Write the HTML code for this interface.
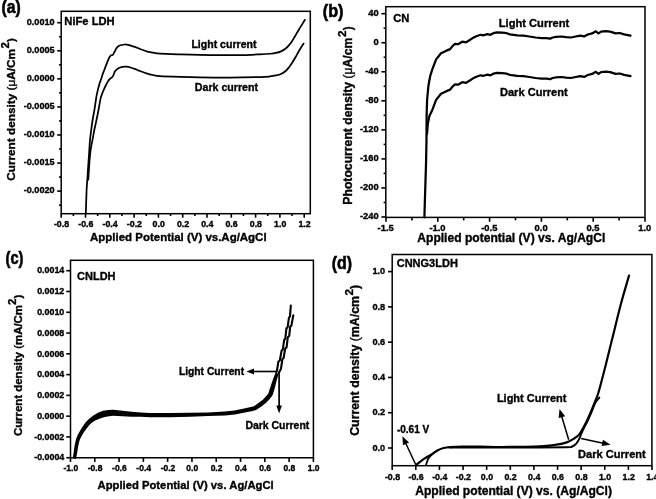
<!DOCTYPE html>
<html><head><meta charset="utf-8"><style>
html,body{margin:0;padding:0;background:#fff;}
svg{display:block;will-change:transform;filter:blur(0.3px);}
text{font-family:"Liberation Sans", sans-serif;font-weight:bold;fill:#000;stroke:#000;stroke-width:0.35px;}
text.s{stroke:#000;stroke-width:0.6px;}
</style></head><body>
<svg width="656" height="499" viewBox="0 0 656 499" stroke="#000" fill="#000">
<rect x="0" y="0" width="656" height="499" fill="#fff" stroke="none"/>
<rect x="61.2" y="11.3" width="249.1" height="202.4" fill="none" stroke-width="1.5"/>
<line x1="57.2" y1="22.7" x2="61.2" y2="22.7" stroke-width="1.6" stroke-linecap="butt"/>
<text x="54.6" y="25.05" font-size="9.1" text-anchor="end">0.0010</text>
<line x1="57.2" y1="50.77" x2="61.2" y2="50.77" stroke-width="1.6" stroke-linecap="butt"/>
<text x="54.6" y="53.12" font-size="9.1" text-anchor="end">0.0005</text>
<line x1="57.2" y1="78.84" x2="61.2" y2="78.84" stroke-width="1.6" stroke-linecap="butt"/>
<text x="54.6" y="81.19" font-size="9.1" text-anchor="end">0.0000</text>
<line x1="57.2" y1="106.91" x2="61.2" y2="106.91" stroke-width="1.6" stroke-linecap="butt"/>
<text x="54.6" y="109.26" font-size="9.1" text-anchor="end">-0.0005</text>
<line x1="57.2" y1="134.98" x2="61.2" y2="134.98" stroke-width="1.6" stroke-linecap="butt"/>
<text x="54.6" y="137.33" font-size="9.1" text-anchor="end">-0.0010</text>
<line x1="57.2" y1="163.05" x2="61.2" y2="163.05" stroke-width="1.6" stroke-linecap="butt"/>
<text x="54.6" y="165.4" font-size="9.1" text-anchor="end">-0.0015</text>
<line x1="57.2" y1="191.12" x2="61.2" y2="191.12" stroke-width="1.6" stroke-linecap="butt"/>
<text x="54.6" y="193.47" font-size="9.1" text-anchor="end">-0.0020</text>
<line x1="59" y1="36.73" x2="61.2" y2="36.73" stroke-width="1.6" stroke-linecap="butt"/>
<line x1="59" y1="64.8" x2="61.2" y2="64.8" stroke-width="1.6" stroke-linecap="butt"/>
<line x1="59" y1="92.88" x2="61.2" y2="92.88" stroke-width="1.6" stroke-linecap="butt"/>
<line x1="59" y1="120.95" x2="61.2" y2="120.95" stroke-width="1.6" stroke-linecap="butt"/>
<line x1="59" y1="149.01" x2="61.2" y2="149.01" stroke-width="1.6" stroke-linecap="butt"/>
<line x1="59" y1="177.08" x2="61.2" y2="177.08" stroke-width="1.6" stroke-linecap="butt"/>
<line x1="59" y1="205.16" x2="61.2" y2="205.16" stroke-width="1.6" stroke-linecap="butt"/>
<line x1="61.2" y1="213.7" x2="61.2" y2="217.7" stroke-width="1.6" stroke-linecap="butt"/>
<text x="61.5" y="227.4" font-size="8.8" text-anchor="middle">-0.8</text>
<line x1="73.35" y1="213.7" x2="73.35" y2="216" stroke-width="1.6" stroke-linecap="butt"/>
<line x1="85.5" y1="213.7" x2="85.5" y2="217.7" stroke-width="1.6" stroke-linecap="butt"/>
<text x="85.8" y="227.4" font-size="8.8" text-anchor="middle">-0.6</text>
<line x1="97.65" y1="213.7" x2="97.65" y2="216" stroke-width="1.6" stroke-linecap="butt"/>
<line x1="109.8" y1="213.7" x2="109.8" y2="217.7" stroke-width="1.6" stroke-linecap="butt"/>
<text x="110.1" y="227.4" font-size="8.8" text-anchor="middle">-0.4</text>
<line x1="121.95" y1="213.7" x2="121.95" y2="216" stroke-width="1.6" stroke-linecap="butt"/>
<line x1="134.1" y1="213.7" x2="134.1" y2="217.7" stroke-width="1.6" stroke-linecap="butt"/>
<text x="134.4" y="227.4" font-size="8.8" text-anchor="middle">-0.2</text>
<line x1="146.25" y1="213.7" x2="146.25" y2="216" stroke-width="1.6" stroke-linecap="butt"/>
<line x1="158.4" y1="213.7" x2="158.4" y2="217.7" stroke-width="1.6" stroke-linecap="butt"/>
<text x="158.7" y="227.4" font-size="8.8" text-anchor="middle">0.0</text>
<line x1="170.55" y1="213.7" x2="170.55" y2="216" stroke-width="1.6" stroke-linecap="butt"/>
<line x1="182.7" y1="213.7" x2="182.7" y2="217.7" stroke-width="1.6" stroke-linecap="butt"/>
<text x="183" y="227.4" font-size="8.8" text-anchor="middle">0.2</text>
<line x1="194.85" y1="213.7" x2="194.85" y2="216" stroke-width="1.6" stroke-linecap="butt"/>
<line x1="207" y1="213.7" x2="207" y2="217.7" stroke-width="1.6" stroke-linecap="butt"/>
<text x="207.3" y="227.4" font-size="8.8" text-anchor="middle">0.4</text>
<line x1="219.15" y1="213.7" x2="219.15" y2="216" stroke-width="1.6" stroke-linecap="butt"/>
<line x1="231.3" y1="213.7" x2="231.3" y2="217.7" stroke-width="1.6" stroke-linecap="butt"/>
<text x="231.6" y="227.4" font-size="8.8" text-anchor="middle">0.6</text>
<line x1="243.45" y1="213.7" x2="243.45" y2="216" stroke-width="1.6" stroke-linecap="butt"/>
<line x1="255.6" y1="213.7" x2="255.6" y2="217.7" stroke-width="1.6" stroke-linecap="butt"/>
<text x="255.9" y="227.4" font-size="8.8" text-anchor="middle">0.8</text>
<line x1="267.75" y1="213.7" x2="267.75" y2="216" stroke-width="1.6" stroke-linecap="butt"/>
<line x1="279.9" y1="213.7" x2="279.9" y2="217.7" stroke-width="1.6" stroke-linecap="butt"/>
<text x="280.2" y="227.4" font-size="8.8" text-anchor="middle">1.0</text>
<line x1="292.05" y1="213.7" x2="292.05" y2="216" stroke-width="1.6" stroke-linecap="butt"/>
<line x1="304.2" y1="213.7" x2="304.2" y2="217.7" stroke-width="1.6" stroke-linecap="butt"/>
<text x="304.5" y="227.4" font-size="8.8" text-anchor="middle">1.2</text>
<text x="90" y="240.9" font-size="11.5" textLength="176.6" lengthAdjust="spacingAndGlyphs">Applied Potential (V) vs.Ag/AgCl</text>
<text transform="translate(15.3 180.8) rotate(-90)" x="0" y="0" font-size="11.8" textLength="131.8" lengthAdjust="spacingAndGlyphs">Current density <tspan font-weight="normal">(μ</tspan>A/Cm</text>
<text transform="translate(9.3 48.6) rotate(-90)" x="0" y="0" font-size="11" textLength="6.4" lengthAdjust="spacingAndGlyphs">2</text>
<text transform="translate(15.3 42) rotate(-90)" x="0" y="0" font-size="11.8" font-weight="normal" textLength="3.8" lengthAdjust="spacingAndGlyphs">)</text>
<text x="64.3" y="25.35" font-size="11.2" textLength="50.4" lengthAdjust="spacingAndGlyphs">NiFe LDH</text>
<text x="191.4" y="47.75" font-size="10.6" textLength="65.1" lengthAdjust="spacingAndGlyphs">Light current</text>
<text x="194.8" y="90.85" font-size="10.6" textLength="63.2" lengthAdjust="spacingAndGlyphs">Dark current</text>
<path d="M85.8 213.7 C85.93 209.75 86.35 195.62 86.6 190 C86.85 184.38 87.03 184 87.3 180 C87.57 176 87.92 170.17 88.2 166 C88.48 161.83 88.7 159.33 89 155 C89.3 150.67 89.63 144.17 90 140 C90.37 135.83 90.77 133.33 91.2 130 C91.63 126.67 92.07 123.33 92.6 120 C93.13 116.67 93.85 113.33 94.4 110 C94.95 106.67 95.47 102.73 95.9 100 C96.33 97.27 96.42 96.27 97 93.6 C97.58 90.93 98.7 86.43 99.4 84 C100.1 81.57 100.7 80.5 101.2 79 C101.7 77.5 101.8 76.72 102.4 75 C103 73.28 104 70.82 104.8 68.7 C105.6 66.58 106.4 64.25 107.2 62.3 C108 60.35 108.93 58.18 109.6 57 C110.27 55.82 110.67 55.55 111.2 55.2 C111.73 54.85 112.27 55.4 112.8 54.9 C113.33 54.4 113.8 53.32 114.4 52.2 C115 51.08 115.73 49.2 116.4 48.2 C117.07 47.2 117.53 46.73 118.4 46.2 C119.27 45.67 120.53 45.28 121.6 45 C122.67 44.72 123.73 44.53 124.8 44.5 C125.87 44.47 126.78 44.53 128 44.8 C129.22 45.07 130.75 45.67 132.1 46.1 C133.45 46.53 134.78 46.92 136.1 47.4 C137.42 47.88 138.13 48.26 140 48.95 C141.87 49.64 144.97 50.9 147.3 51.55 C149.63 52.2 151.88 52.5 154 52.85 C156.12 53.2 155.67 53.4 160 53.65 C164.33 53.9 173.33 54.15 180 54.35 C186.67 54.55 193.33 54.72 200 54.85 C206.67 54.98 213.33 55.1 220 55.15 C226.67 55.2 233.33 55.28 240 55.15 C246.67 55.02 255 54.58 260 54.35 C265 54.12 267.33 53.98 270 53.75 C272.67 53.52 274.17 53.35 276 52.95 C277.83 52.55 279.38 52.09 281 51.35 C282.62 50.61 284.37 49.52 285.7 48.5 C287.03 47.48 287.95 46.4 289 45.2 C290.05 44 290.95 42.88 292 41.3 C293.05 39.72 294.22 37.55 295.3 35.7 C296.38 33.85 297.42 32 298.5 30.2 C299.58 28.4 300.73 26.63 301.8 24.9 C302.87 23.17 304.38 20.65 304.9 19.8" fill="none" stroke-width="1.75" stroke-linejoin="round" stroke-linecap="round"/>
<path d="M88.3 179.6 C88.4 178 88.68 173.27 88.9 170 C89.12 166.73 89.35 163 89.6 160 C89.85 157 90.1 154.5 90.4 152 C90.7 149.5 91.05 147 91.4 145 C91.75 143 92.02 142.5 92.5 140 C92.98 137.5 93.63 133.33 94.3 130 C94.97 126.67 95.8 123.33 96.5 120 C97.2 116.67 97.82 113.6 98.5 110 C99.18 106.4 99.95 101.23 100.6 98.4 C101.25 95.57 101.8 94.6 102.4 93 C103 91.4 103.6 90.13 104.2 88.8 C104.8 87.47 105.4 86.2 106 85 C106.6 83.8 107.2 82.57 107.8 81.6 C108.4 80.63 109.07 79.8 109.6 79.2 C110.13 78.6 110.57 78.33 111 78 C111.43 77.67 111.83 77.6 112.2 77.2 C112.57 76.8 112.7 76.62 113.2 75.6 C113.7 74.58 114.33 72.32 115.2 71.1 C116.07 69.88 117.2 69 118.4 68.3 C119.6 67.6 121.05 67.17 122.4 66.9 C123.75 66.63 125.15 66.6 126.5 66.7 C127.85 66.8 129.03 67.1 130.5 67.5 C131.97 67.9 133.72 68.51 135.3 69.1 C136.88 69.69 138 70.31 140 71.05 C142 71.79 144.97 72.85 147.3 73.55 C149.63 74.25 151.88 74.82 154 75.25 C156.12 75.68 155.67 75.87 160 76.15 C164.33 76.43 173.33 76.73 180 76.95 C186.67 77.17 191.67 77.33 200 77.45 C208.33 77.57 220 77.72 230 77.65 C240 77.58 253.33 77.25 260 77.05 C266.67 76.85 267.33 76.72 270 76.45 C272.67 76.18 274.17 75.87 276 75.45 C277.83 75.03 279.38 74.69 281 73.95 C282.62 73.21 284.37 72.12 285.7 71 C287.03 69.88 287.95 68.55 289 67.2 C290.05 65.85 290.95 64.52 292 62.9 C293.05 61.28 294.22 59.37 295.3 57.5 C296.38 55.63 297.52 53.42 298.5 51.7 C299.48 49.98 300.35 48.55 301.2 47.2 C302.05 45.85 303.2 44.2 303.6 43.6" fill="none" stroke-width="1.75" stroke-linejoin="round" stroke-linecap="round"/>
<text x="1.6" y="12.9" font-size="17.85" font-weight="normal" textLength="19.2" lengthAdjust="spacingAndGlyphs" class="s" stroke-width="0.55">(a)</text>
<rect x="385.8" y="6.7" width="259.2" height="210.7" fill="none" stroke-width="1.5"/>
<line x1="381.4" y1="13.7" x2="385.8" y2="13.7" stroke-width="1.6" stroke-linecap="butt"/>
<text x="378.6" y="16.2" font-size="9.3" text-anchor="end">40</text>
<line x1="383.6" y1="28.22" x2="385.8" y2="28.22" stroke-width="1.6" stroke-linecap="butt"/>
<line x1="381.4" y1="42.74" x2="385.8" y2="42.74" stroke-width="1.6" stroke-linecap="butt"/>
<text x="378.6" y="45.24" font-size="9.3" text-anchor="end">0</text>
<line x1="383.6" y1="57.26" x2="385.8" y2="57.26" stroke-width="1.6" stroke-linecap="butt"/>
<line x1="381.4" y1="71.78" x2="385.8" y2="71.78" stroke-width="1.6" stroke-linecap="butt"/>
<text x="378.6" y="74.28" font-size="9.3" text-anchor="end">-40</text>
<line x1="383.6" y1="86.3" x2="385.8" y2="86.3" stroke-width="1.6" stroke-linecap="butt"/>
<line x1="381.4" y1="100.82" x2="385.8" y2="100.82" stroke-width="1.6" stroke-linecap="butt"/>
<text x="378.6" y="103.32" font-size="9.3" text-anchor="end">-80</text>
<line x1="383.6" y1="115.34" x2="385.8" y2="115.34" stroke-width="1.6" stroke-linecap="butt"/>
<line x1="381.4" y1="129.86" x2="385.8" y2="129.86" stroke-width="1.6" stroke-linecap="butt"/>
<text x="378.6" y="132.36" font-size="9.3" text-anchor="end">-120</text>
<line x1="383.6" y1="144.38" x2="385.8" y2="144.38" stroke-width="1.6" stroke-linecap="butt"/>
<line x1="381.4" y1="158.9" x2="385.8" y2="158.9" stroke-width="1.6" stroke-linecap="butt"/>
<text x="378.6" y="161.4" font-size="9.3" text-anchor="end">-160</text>
<line x1="383.6" y1="173.42" x2="385.8" y2="173.42" stroke-width="1.6" stroke-linecap="butt"/>
<line x1="381.4" y1="187.94" x2="385.8" y2="187.94" stroke-width="1.6" stroke-linecap="butt"/>
<text x="378.6" y="190.44" font-size="9.3" text-anchor="end">-200</text>
<line x1="383.6" y1="202.46" x2="385.8" y2="202.46" stroke-width="1.6" stroke-linecap="butt"/>
<line x1="381.4" y1="216.98" x2="385.8" y2="216.98" stroke-width="1.6" stroke-linecap="butt"/>
<text x="378.6" y="219.48" font-size="9.3" text-anchor="end">-240</text>
<line x1="386" y1="217.4" x2="386" y2="221.8" stroke-width="1.6" stroke-linecap="butt"/>
<text x="385.7" y="231.3" font-size="9.4" text-anchor="middle">-1.5</text>
<line x1="411.9" y1="217.4" x2="411.9" y2="220.4" stroke-width="1.6" stroke-linecap="butt"/>
<line x1="437.8" y1="217.4" x2="437.8" y2="221.8" stroke-width="1.6" stroke-linecap="butt"/>
<text x="437.5" y="231.3" font-size="9.4" text-anchor="middle">-1.0</text>
<line x1="463.7" y1="217.4" x2="463.7" y2="220.4" stroke-width="1.6" stroke-linecap="butt"/>
<line x1="489.6" y1="217.4" x2="489.6" y2="221.8" stroke-width="1.6" stroke-linecap="butt"/>
<text x="489.3" y="231.3" font-size="9.4" text-anchor="middle">-0.5</text>
<line x1="515.5" y1="217.4" x2="515.5" y2="220.4" stroke-width="1.6" stroke-linecap="butt"/>
<line x1="541.4" y1="217.4" x2="541.4" y2="221.8" stroke-width="1.6" stroke-linecap="butt"/>
<text x="541.1" y="231.3" font-size="9.4" text-anchor="middle">0.0</text>
<line x1="567.3" y1="217.4" x2="567.3" y2="220.4" stroke-width="1.6" stroke-linecap="butt"/>
<line x1="593.2" y1="217.4" x2="593.2" y2="221.8" stroke-width="1.6" stroke-linecap="butt"/>
<text x="592.9" y="231.3" font-size="9.4" text-anchor="middle">0.5</text>
<line x1="619.1" y1="217.4" x2="619.1" y2="220.4" stroke-width="1.6" stroke-linecap="butt"/>
<line x1="645" y1="217.4" x2="645" y2="221.8" stroke-width="1.6" stroke-linecap="butt"/>
<text x="644.7" y="231.3" font-size="9.4" text-anchor="middle">1.0</text>
<text x="417.3" y="242.3" font-size="12" textLength="188" lengthAdjust="spacingAndGlyphs">Applied potential (V) vs. Ag/AgCl</text>
<text transform="translate(352.2 204.7) rotate(-90)" x="0" y="0" font-size="12.2" textLength="167.1" lengthAdjust="spacingAndGlyphs">Photocurrent density <tspan font-weight="normal">(μ</tspan>A/cm</text>
<text transform="translate(345.7 37) rotate(-90)" x="0" y="0" font-size="11.5" textLength="6.5" lengthAdjust="spacingAndGlyphs">2</text>
<text transform="translate(352.2 30.3) rotate(-90)" x="0" y="0" font-size="12.2" font-weight="normal" textLength="3.8" lengthAdjust="spacingAndGlyphs">)</text>
<text x="393.2" y="22.35" font-size="11.2" textLength="16.2" lengthAdjust="spacingAndGlyphs">CN</text>
<text x="498.8" y="26.55" font-size="11.1" textLength="70.5" lengthAdjust="spacingAndGlyphs">Light Current</text>
<text x="499.9" y="95.95" font-size="11.1" textLength="67.9" lengthAdjust="spacingAndGlyphs">Dark Current</text>
<path d="M424.4 217.4 L425.2 190 L426 165 L426.5 140 L426.6 116 L427.1 100 L428.4 86 L430.2 76 L432.4 69.2 L436.1 59.4 L441 53.3 L445.9 50.9 L450.1 49.1 L452.6 46 L455 43.8 L458 44.2 L462.3 41.7 L466 42.4 L469 40.5 L472.7 38.1 L476.3 36.3 L480.6 34.8 L483.7 35.3 L487.3 34.1 L490.4 34.8 L493.4 33.2 L497.1 32.4 L502 32.6 L506.8 33.2 L509.9 34.4 L517.2 35.3 L523.3 35.6 L529.4 36.5 L535.5 37.5 L541.6 38.1 L546.5 38.1 L550.1 38.7 L552.6 37.5 L556.2 36.9 L561.1 36.5 L566 37.1 L570.9 37.5 L575.7 36.5 L580.3 35.6 L584.1 36.4 L587.8 34.5 L592.1 33.4 L595.8 31.3 L598.5 33.4 L601.1 31.6 L605.9 31.1 L610.2 31.6 L615.6 33.4 L619.8 33 L624.1 34.3 L630.5 35.6" fill="none" stroke-width="2.25" stroke-linejoin="round" stroke-linecap="round"/>
<path d="M427 134 L427.8 124 L429.4 116 L432.4 109.7 L436.1 99.9 L441 93.8 L445.9 91.4 L450.1 89.6 L452.6 86.5 L455 84.3 L458 84.7 L462.3 82.2 L466 82.9 L469 81 L472.7 78.6 L476.3 76.8 L480.6 75.3 L483.7 75.8 L487.3 74.6 L490.4 75.3 L493.4 73.7 L497.1 72.9 L502 73.1 L506.8 73.7 L509.9 74.9 L517.2 75.8 L523.3 76.1 L529.4 77 L535.5 78 L541.6 78.6 L546.5 78.6 L550.1 79.2 L552.6 78 L556.2 77.4 L561.1 77 L566 77.6 L570.9 78 L575.7 77 L580.3 76.1 L584.1 76.9 L587.8 75 L592.1 73.9 L595.8 71.8 L598.5 73.9 L601.1 72.1 L605.9 71.6 L610.2 72.1 L615.6 73.9 L619.8 73.5 L624.1 74.8 L630.5 76.1" fill="none" stroke-width="2.25" stroke-linejoin="round" stroke-linecap="round"/>
<text x="322.8" y="17" font-size="17.6" font-weight="normal" textLength="20.7" lengthAdjust="spacingAndGlyphs" class="s" stroke-width="0.55">(b)</text>
<rect x="70.5" y="260.3" width="242.9" height="197.45" fill="none" stroke-width="1.5"/>
<line x1="66.3" y1="270.7" x2="70.5" y2="270.7" stroke-width="1.6" stroke-linecap="butt"/>
<text x="64.3" y="273.4" font-size="8.9" text-anchor="end">0.0014</text>
<line x1="66.3" y1="291.48" x2="70.5" y2="291.48" stroke-width="1.6" stroke-linecap="butt"/>
<text x="64.3" y="294.18" font-size="8.9" text-anchor="end">0.0012</text>
<line x1="66.3" y1="312.26" x2="70.5" y2="312.26" stroke-width="1.6" stroke-linecap="butt"/>
<text x="64.3" y="314.96" font-size="8.9" text-anchor="end">0.0010</text>
<line x1="66.3" y1="333.04" x2="70.5" y2="333.04" stroke-width="1.6" stroke-linecap="butt"/>
<text x="64.3" y="335.74" font-size="8.9" text-anchor="end">0.0008</text>
<line x1="66.3" y1="353.82" x2="70.5" y2="353.82" stroke-width="1.6" stroke-linecap="butt"/>
<text x="64.3" y="356.52" font-size="8.9" text-anchor="end">0.0006</text>
<line x1="66.3" y1="374.6" x2="70.5" y2="374.6" stroke-width="1.6" stroke-linecap="butt"/>
<text x="64.3" y="377.3" font-size="8.9" text-anchor="end">0.0004</text>
<line x1="66.3" y1="395.38" x2="70.5" y2="395.38" stroke-width="1.6" stroke-linecap="butt"/>
<text x="64.3" y="398.08" font-size="8.9" text-anchor="end">0.0002</text>
<line x1="66.3" y1="416.16" x2="70.5" y2="416.16" stroke-width="1.6" stroke-linecap="butt"/>
<text x="64.3" y="418.86" font-size="8.9" text-anchor="end">0.0000</text>
<line x1="66.3" y1="436.94" x2="70.5" y2="436.94" stroke-width="1.6" stroke-linecap="butt"/>
<text x="64.3" y="439.64" font-size="8.9" text-anchor="end">-0.0002</text>
<line x1="66.3" y1="457.72" x2="70.5" y2="457.72" stroke-width="1.6" stroke-linecap="butt"/>
<text x="64.3" y="460.42" font-size="8.9" text-anchor="end">-0.0004</text>
<line x1="70.5" y1="457.75" x2="70.5" y2="461.95" stroke-width="1.6" stroke-linecap="butt"/>
<text x="70.8" y="471.2" font-size="8.5" text-anchor="middle">-1.0</text>
<line x1="94.79" y1="457.75" x2="94.79" y2="461.95" stroke-width="1.6" stroke-linecap="butt"/>
<text x="95.09" y="471.2" font-size="8.5" text-anchor="middle">-0.8</text>
<line x1="119.08" y1="457.75" x2="119.08" y2="461.95" stroke-width="1.6" stroke-linecap="butt"/>
<text x="119.38" y="471.2" font-size="8.5" text-anchor="middle">-0.6</text>
<line x1="143.37" y1="457.75" x2="143.37" y2="461.95" stroke-width="1.6" stroke-linecap="butt"/>
<text x="143.67" y="471.2" font-size="8.5" text-anchor="middle">-0.4</text>
<line x1="167.66" y1="457.75" x2="167.66" y2="461.95" stroke-width="1.6" stroke-linecap="butt"/>
<text x="167.96" y="471.2" font-size="8.5" text-anchor="middle">-0.2</text>
<line x1="191.95" y1="457.75" x2="191.95" y2="461.95" stroke-width="1.6" stroke-linecap="butt"/>
<text x="192.25" y="471.2" font-size="8.5" text-anchor="middle">0.0</text>
<line x1="216.24" y1="457.75" x2="216.24" y2="461.95" stroke-width="1.6" stroke-linecap="butt"/>
<text x="216.54" y="471.2" font-size="8.5" text-anchor="middle">0.2</text>
<line x1="240.53" y1="457.75" x2="240.53" y2="461.95" stroke-width="1.6" stroke-linecap="butt"/>
<text x="240.83" y="471.2" font-size="8.5" text-anchor="middle">0.4</text>
<line x1="264.82" y1="457.75" x2="264.82" y2="461.95" stroke-width="1.6" stroke-linecap="butt"/>
<text x="265.12" y="471.2" font-size="8.5" text-anchor="middle">0.6</text>
<line x1="289.11" y1="457.75" x2="289.11" y2="461.95" stroke-width="1.6" stroke-linecap="butt"/>
<text x="289.41" y="471.2" font-size="8.5" text-anchor="middle">0.8</text>
<line x1="313.4" y1="457.75" x2="313.4" y2="461.95" stroke-width="1.6" stroke-linecap="butt"/>
<text x="313.7" y="471.2" font-size="8.5" text-anchor="middle">1.0</text>
<text x="97.5" y="489.1" font-size="11.3" textLength="176.2" lengthAdjust="spacingAndGlyphs">Applied Potential (V) vs. Ag/AgCl</text>
<text transform="translate(21.8 436.1) rotate(-90)" x="0" y="0" font-size="11.4" textLength="131.1" lengthAdjust="spacingAndGlyphs">Current density <tspan font-weight="normal">(</tspan>mA/Cm</text>
<text transform="translate(15.8 305) rotate(-90)" x="0" y="0" font-size="11" textLength="6.4" lengthAdjust="spacingAndGlyphs">2</text>
<text transform="translate(21.8 298.5) rotate(-90)" x="0" y="0" font-size="11.4" font-weight="normal" textLength="3.9" lengthAdjust="spacingAndGlyphs">)</text>
<text x="77.1" y="280.15" font-size="11" textLength="38.4" lengthAdjust="spacingAndGlyphs">CNLDH</text>
<text x="178.9" y="375" font-size="10.3" textLength="65.2" lengthAdjust="spacingAndGlyphs">Light Current</text>
<text x="245.4" y="429.35" font-size="10.45" textLength="63.9" lengthAdjust="spacingAndGlyphs">Dark Current</text>
<path d="M72.63 458.27 L72.93 456.79 L73.77 451.82 L74.42 446.8 L75.2 442.69 L76.21 438.46 L77.97 434.6 L80.05 430.73 L82.53 426.78 L85.48 422.55 L88.65 419.17 L92.93 415.73 L98.39 412.44 L103.26 410.84 L108.33 409.97 L113.39 409.8 L122.6 410.76 L131.76 411.65 L140.81 412.55 L149.93 413.05 L169.98 413.1 L189.96 412.85 L207.94 412.5 L224.86 411.61 L234.49 410.42 L244.1 408.49 L251.93 406.85 L253.98 406.21 L258.5 403.12 L263.1 399.42 L266.27 396.08 L268.37 393.42 L269.31 390.31 L270.34 387.15 L271.54 383.39 L272.94 379.41 L274.34 375.85 L275.57 372.84 L278.43 373.76 L277.66 376.95 L276.66 380.59 L275.66 384.61 L274.66 388.45 L273.69 391.69 L272.43 395.58 L269.73 399.12 L266.1 402.78 L261.1 406.68 L256.02 409.99 L252.87 410.95 L244.9 412.51 L235.11 414.38 L225.14 415.59 L208.06 416.1 L190.04 416.65 L170.02 417.2 L149.87 417.15 L140.59 416.75 L131.44 416.65 L122.2 416.24 L113.21 415.8 L109.07 416.23 L104.74 416.96 L100.81 418.16 L95.67 420.27 L91.75 422.83 L88.92 425.45 L86.07 429.22 L83.55 432.87 L81.43 436.4 L79.79 439.74 L78.8 443.51 L77.98 447.4 L77.23 452.38 L76.27 457.41 L75.97 458.93 Z" stroke="none"/>
<path d="M276.4 372.5 L277 370.3 L278.4 361.5 L279.8 360.5 L281.6 350.6 L282.8 349.6 L284.2 339.8 L285.3 338.8 L286.4 328.4 L287.6 327.4 L289 317.4 L290 316.4 L290.8 305.6" fill="none" stroke-width="2.1" stroke-linejoin="round" stroke-linecap="round"/>
<path d="M279 372.5 L281 368.7 L282.4 359 L283.6 358 L285.2 348.6 L286.6 347.4 L287.8 337.2 L289.2 336 L290.2 326.6 L291.4 325.6 L293.3 315.2" fill="none" stroke-width="2.1" stroke-linejoin="round" stroke-linecap="round"/>
<line x1="276.8" y1="371.5" x2="253" y2="371.5" stroke-width="1.6" stroke-linecap="butt"/>
<path d="M246.4 371.5 L254 368.5 L254 374.5 Z" stroke="none"/>
<line x1="279.1" y1="371.5" x2="279.1" y2="406.6" stroke-width="1.7" stroke-linecap="butt"/>
<path d="M279.1 413.6 L276.3 405.6 L281.9 405.6 Z" stroke="none"/>
<text x="5.5" y="263.5" font-size="17.8" font-weight="normal" textLength="17.9" lengthAdjust="spacingAndGlyphs" class="s" stroke-width="0.55">(c)</text>
<rect x="392.2" y="254.5" width="259.7" height="211.2" fill="none" stroke-width="1.5"/>
<line x1="388" y1="271.6" x2="392.2" y2="271.6" stroke-width="1.6" stroke-linecap="butt"/>
<text x="385.2" y="274.35" font-size="9.2" text-anchor="end">1.0</text>
<line x1="388" y1="306.88" x2="392.2" y2="306.88" stroke-width="1.6" stroke-linecap="butt"/>
<text x="385.2" y="309.63" font-size="9.2" text-anchor="end">0.8</text>
<line x1="388" y1="342.16" x2="392.2" y2="342.16" stroke-width="1.6" stroke-linecap="butt"/>
<text x="385.2" y="344.91" font-size="9.2" text-anchor="end">0.6</text>
<line x1="388" y1="377.44" x2="392.2" y2="377.44" stroke-width="1.6" stroke-linecap="butt"/>
<text x="385.2" y="380.19" font-size="9.2" text-anchor="end">0.4</text>
<line x1="388" y1="412.72" x2="392.2" y2="412.72" stroke-width="1.6" stroke-linecap="butt"/>
<text x="385.2" y="415.47" font-size="9.2" text-anchor="end">0.2</text>
<line x1="388" y1="448" x2="392.2" y2="448" stroke-width="1.6" stroke-linecap="butt"/>
<text x="385.2" y="450.75" font-size="9.2" text-anchor="end">0.0</text>
<line x1="392.2" y1="465.7" x2="392.2" y2="469.9" stroke-width="1.6" stroke-linecap="butt"/>
<text x="392.5" y="479.6" font-size="8.8" text-anchor="middle">-0.8</text>
<line x1="415.82" y1="465.7" x2="415.82" y2="469.9" stroke-width="1.6" stroke-linecap="butt"/>
<text x="416.12" y="479.6" font-size="8.8" text-anchor="middle">-0.6</text>
<line x1="439.44" y1="465.7" x2="439.44" y2="469.9" stroke-width="1.6" stroke-linecap="butt"/>
<text x="439.74" y="479.6" font-size="8.8" text-anchor="middle">-0.4</text>
<line x1="463.06" y1="465.7" x2="463.06" y2="469.9" stroke-width="1.6" stroke-linecap="butt"/>
<text x="463.36" y="479.6" font-size="8.8" text-anchor="middle">-0.2</text>
<line x1="486.68" y1="465.7" x2="486.68" y2="469.9" stroke-width="1.6" stroke-linecap="butt"/>
<text x="486.98" y="479.6" font-size="8.8" text-anchor="middle">0.0</text>
<line x1="510.3" y1="465.7" x2="510.3" y2="469.9" stroke-width="1.6" stroke-linecap="butt"/>
<text x="510.6" y="479.6" font-size="8.8" text-anchor="middle">0.2</text>
<line x1="533.92" y1="465.7" x2="533.92" y2="469.9" stroke-width="1.6" stroke-linecap="butt"/>
<text x="534.22" y="479.6" font-size="8.8" text-anchor="middle">0.4</text>
<line x1="557.54" y1="465.7" x2="557.54" y2="469.9" stroke-width="1.6" stroke-linecap="butt"/>
<text x="557.84" y="479.6" font-size="8.8" text-anchor="middle">0.6</text>
<line x1="581.16" y1="465.7" x2="581.16" y2="469.9" stroke-width="1.6" stroke-linecap="butt"/>
<text x="581.46" y="479.6" font-size="8.8" text-anchor="middle">0.8</text>
<line x1="604.78" y1="465.7" x2="604.78" y2="469.9" stroke-width="1.6" stroke-linecap="butt"/>
<text x="605.08" y="479.6" font-size="8.8" text-anchor="middle">1.0</text>
<line x1="628.4" y1="465.7" x2="628.4" y2="469.9" stroke-width="1.6" stroke-linecap="butt"/>
<text x="628.7" y="479.6" font-size="8.8" text-anchor="middle">1.2</text>
<line x1="652.02" y1="465.7" x2="652.02" y2="469.9" stroke-width="1.6" stroke-linecap="butt"/>
<text x="652.32" y="479.6" font-size="8.8" text-anchor="middle">1.4</text>
<text x="415.2" y="494.7" font-size="12.1" textLength="196.8" lengthAdjust="spacingAndGlyphs">Applied potential (V) vs. (Ag/AgCl)</text>
<text transform="translate(359.4 435.8) rotate(-90)" x="0" y="0" font-size="12.3" textLength="139.8" lengthAdjust="spacingAndGlyphs">Current density <tspan font-weight="normal">(</tspan>mA/cm</text>
<text transform="translate(352.9 295.5) rotate(-90)" x="0" y="0" font-size="11.5" textLength="6.5" lengthAdjust="spacingAndGlyphs">2</text>
<text transform="translate(359.4 289) rotate(-90)" x="0" y="0" font-size="12.3" font-weight="normal" textLength="4" lengthAdjust="spacingAndGlyphs">)</text>
<text x="396.7" y="266.65" font-size="11" textLength="61.2" lengthAdjust="spacingAndGlyphs">CNNG3LDH</text>
<text x="396.9" y="432.55" font-size="10" textLength="32.3" lengthAdjust="spacingAndGlyphs">-0.61 V</text>
<text x="496.9" y="402.25" font-size="11" textLength="69.6" lengthAdjust="spacingAndGlyphs">Light Current</text>
<text x="578.1" y="458.25" font-size="11.1" textLength="67.7" lengthAdjust="spacingAndGlyphs">Dark Current</text>
<path d="M416.2 464.8 C417.5 463.82 421.52 460.6 424 458.9 C426.48 457.2 428.75 456.07 431.1 454.6 C433.45 453.13 436 451.2 438.1 450.1 C440.2 449 441.72 448.5 443.7 448 C445.68 447.5 446.8 447.35 450 447.1 C453.2 446.85 457.9 446.57 462.9 446.5 C467.9 446.43 473.65 446.62 480 446.7 C486.35 446.78 494.33 446.98 501 447 C507.67 447.02 513.5 446.9 520 446.8 C526.5 446.7 534.33 446.7 540 446.4 C545.67 446.1 549.65 445.63 554 445 C558.35 444.37 562.68 443.72 566.1 442.6 C569.52 441.48 572.3 439.67 574.5 438.3 C576.7 436.93 577.82 436.2 579.3 434.4 C580.78 432.6 582.15 429.73 583.4 427.5 C584.65 425.27 585.67 423.33 586.8 421 C587.93 418.67 588.92 416.5 590.2 413.5 C591.48 410.5 593.08 406.63 594.5 403 C595.92 399.37 596.85 397.97 598.7 391.7 C600.55 385.43 603.32 374.33 605.6 365.4 C607.88 356.47 609.85 348.33 612.4 338.1 C614.95 327.87 618.13 314.42 620.9 304 C623.67 293.58 627.65 280.33 629 275.6" fill="none" stroke-width="2.2" stroke-linejoin="round" stroke-linecap="round"/>
<path d="M426.1 464.8 C426.45 463.82 427.37 460.47 428.2 458.9 C429.03 457.33 430.05 456.48 431.1 455.4 C432.15 454.32 433.33 453.28 434.5 452.4 C435.67 451.52 437.5 450.48 438.1 450.1" fill="none" stroke-width="1.8" stroke-linejoin="round" stroke-linecap="round"/>
<path d="M450 447.6 C455 447.6 468.33 447.6 480 447.6 C491.67 447.6 505.65 447.65 520 447.6 C534.35 447.55 557.42 447.48 566.1 447.3 C574.78 447.12 570.4 447.12 572.1 446.5 C573.8 445.88 575.1 444.88 576.3 443.6 C577.5 442.32 578.47 440.45 579.3 438.8 C580.13 437.15 580.48 435.58 581.3 433.7 C582.12 431.82 583.15 429.62 584.2 427.5 C585.25 425.38 586.47 423.33 587.6 421 C588.73 418.67 589.73 416.5 591 413.5 C592.27 410.5 593.82 405.65 595.2 403 C596.58 400.35 598.62 398.5 599.3 397.6" fill="none" stroke-width="1.9" stroke-linejoin="round" stroke-linecap="round"/>
<line x1="415.8" y1="464.8" x2="405.58" y2="442.99" stroke-width="1.5" stroke-linecap="butt"/>
<path d="M402.4 436.2 L409.09 442.45 L402.93 445.34 Z" stroke="none"/>
<line x1="568.7" y1="439.7" x2="561.65" y2="416.18" stroke-width="1.5" stroke-linecap="butt"/>
<path d="M559.5 409 L565.2 416.17 L558.68 418.12 Z" stroke="none"/>
<line x1="581.1" y1="438.5" x2="603.26" y2="443.16" stroke-width="1.5" stroke-linecap="butt"/>
<path d="M610.6 444.7 L601.62 446.08 L602.94 439.82 Z" stroke="none"/>
<text x="331.7" y="269.4" font-size="18" font-weight="normal" textLength="20.3" lengthAdjust="spacingAndGlyphs" class="s" stroke-width="0.55">(d)</text>
</svg>
</body></html>
